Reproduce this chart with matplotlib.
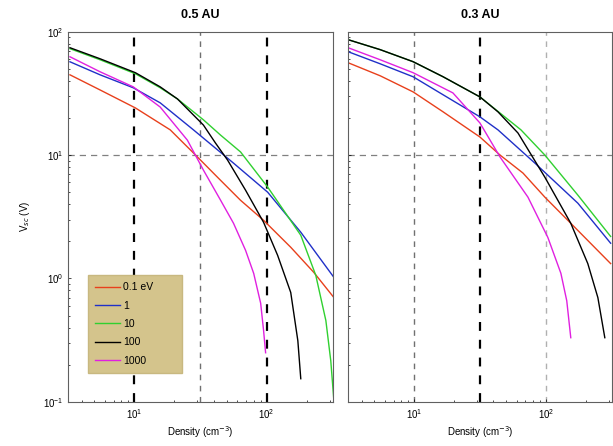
import matplotlib
matplotlib.use('Agg')
import matplotlib.pyplot as plt

# legend labels (electron temperature)
labels = ['0.1 eV', '1', '10', '100', '1000']
colors = ['#e8401c', '#2030c8', '#30d030', 'black', '#e020e0']

# ---- 0.5 AU panel: density (cm^-3) and V_sc (V) for each curve ----
n05_red = [3.27, 5.52, 10.2, 18.7, 28, 42.6, 63.5, 94.8, 152, 227, 322]
v05_red = [44.7, 33.7, 24.1, 16, 10.4, 6.6, 4.3, 2.96, 1.79, 1.12, 0.70]
n05_blue = [3.27, 5.52, 9.83, 15.7, 28, 56.2, 101.8, 181, 322]
v05_blue = [57, 44.7, 35.1, 26.5, 16, 8.6, 5.0, 2.37, 1.02]
n05_green = [3.27, 5.52, 10.2, 15.7, 21.2, 33.3, 44.9, 63.5, 101.8, 181, 235, 280, 305, 322]
v05_green = [72.8, 59.2, 45.6, 35.1, 28.5, 19.3, 14.5, 10.6, 5.5, 2.24, 1.06, 0.456, 0.215, 0.102]
n05_black = [3.27, 5.52, 10.2, 15.7, 21.2, 33.3, 41.1, 50.7, 69.3, 94.8, 121, 152, 172, 181]
v05_black = [74.1, 60.3, 46.5, 35.7, 28.5, 17.5, 12.5, 9.1, 5.19, 2.85, 1.54, 0.77, 0.313, 0.154]
n05_mag = [3.27, 5.52, 9.83, 15.7, 25.2, 33.3, 44.9, 56.2, 69.3, 79.8, 90.1, 94.8, 98.2]
v05_mag = [62.6, 47.3, 35.7, 24.5, 13.2, 7.55, 4.3, 2.8, 1.69, 1.1, 0.63, 0.378, 0.25]

# ---- 0.3 AU panel ----
n03_red = [3.16, 5.53, 9.83, 16.6, 31.6, 44.9, 67, 98.2, 154.5, 310]
v03_red = [56, 43.9, 32.5, 22.4, 14, 10, 7.15, 4.56, 2.8, 1.32]
n03_blue = [3.16, 5.53, 9.83, 16.6, 31.6, 43.3, 82.6, 175, 310]
v03_blue = [68.8, 54.9, 43.1, 30.8, 20.4, 16, 8.6, 4.07, 1.93]
n03_green = [3.16, 5.53, 9.83, 16.6, 31.6, 64.7, 98.2, 175, 310]
v03_green = [86.1, 71.5, 57.1, 43.1, 29.6, 16, 10, 4.73, 2.19]
n03_black = [3.16, 5.53, 9.83, 16.6, 31.6, 43.3, 61.4, 98.2, 154.5, 208, 248, 280]
v03_black = [86.1, 71.5, 57.1, 43.1, 29.6, 22.4, 15.1, 6.62, 2.8, 1.32, 0.70, 0.331]
n03_mag = [3.16, 5.53, 9.83, 19.7, 31.6, 44.9, 73.1, 103.5, 130, 144, 154.5]
v03_mag = [74.1, 59.2, 46.5, 31.9, 18.2, 9.64, 4.56, 2.15, 1.1, 0.66, 0.331]

panels = [
    ('0.5 AU', [(n05_red, v05_red), (n05_blue, v05_blue), (n05_green, v05_green),
                (n05_black, v05_black), (n05_mag, v05_mag)],
     [(10, 'black', 1.6), (31.6, '#707070', 1.0), (100, 'black', 1.6)]),
    ('0.3 AU', [(n03_red, v03_red), (n03_blue, v03_blue), (n03_green, v03_green),
                (n03_black, v03_black), (n03_mag, v03_mag)],
     [(10, '#707070', 1.0), (31.6, 'black', 1.6), (100, '#b0b0b0', 1.0)]),
]

plt.rcParams['font.family'] = 'Liberation Sans'
plt.rcParams['font.size'] = 7

fig = plt.figure(figsize=(6.13, 4.46), dpi=100)
ax_pos = [[0.111, 0.099, 0.432, 0.830], [0.568, 0.099, 0.430, 0.830]]

for i, (title, curves, vlines) in enumerate(panels):
    ax = fig.add_axes(ax_pos[i])
    for (n, v), c, lab in zip(curves, colors, labels):
        ax.loglog(n, v, color=c, lw=1.0, label=lab)
    for xv, c, lw in vlines:
        ax.axvline(xv, color=c, ls=(0, (4, 4)), lw=lw, zorder=0)
    ax.axhline(10, color='#808080', ls=(0, (5, 4)), lw=0.9, zorder=0)
    ax.set_xlim(10**0.5, 10**2.5)
    ax.set_ylim(0.1, 100)
    ax.set_xticks([10, 100])
    ax.tick_params(which='both', direction='in', length=2, width=0.5)
    ax.tick_params(which='minor', length=1.2)
    for s in ax.spines.values():
        s.set_color('#606060')
        s.set_linewidth(0.8)
    ax.set_title(title, fontsize=9, fontweight='bold', pad=10)
    ax.set_xlabel('Density (cm$^{-3}$)', labelpad=3)
    if i == 0:
        ax.set_ylabel('V$_{sc}$ (V)', labelpad=8)
        leg = ax.legend(loc='lower left', bbox_to_anchor=(0.075, 0.078, 0.355, 0.257),
                        mode='expand', fontsize=7.5, frameon=True, fancybox=False,
                        handlelength=2.4, borderpad=0.7, labelspacing=0.8,
                        handletextpad=0.3, borderaxespad=0)
        leg.get_frame().set_facecolor('#d4c48c')
        leg.get_frame().set_edgecolor('#c8b880')
        leg.get_frame().set_alpha(1)
    else:
        ax.tick_params(which='both', labelleft=False)

fig.savefig('out.png', dpi=100)
